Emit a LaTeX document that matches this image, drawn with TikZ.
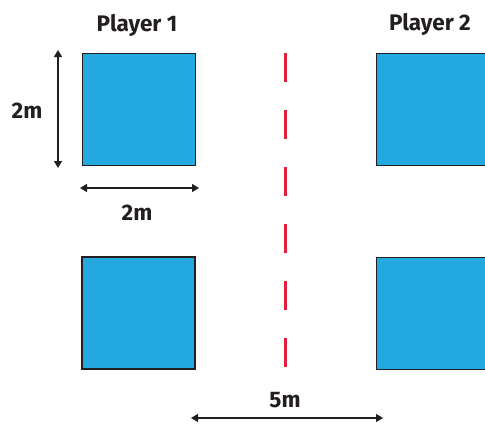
\documentclass[tikz,border=0pt]{standalone}
\usepackage{fontspec}
\setmainfont{Fira Sans}
\usetikzlibrary{arrows.meta}
\definecolor{pitch}{HTML}{24A8E0}
\definecolor{ink}{HTML}{231F20}
\definecolor{midline}{HTML}{E31E3C}
\tikzset{
  court/.style={fill=pitch,draw=ink,line width=1pt},
  courtthick/.style={fill=pitch,draw=ink,line width=2pt},
  dim/.style={draw=ink,line width=1.3pt,{Triangle[length=7pt,width=8pt]}-{Triangle[length=7pt,width=8pt]}},
  lbl/.style={text=ink,font=\bfseries\fontsize{22.5}{24}\selectfont,inner sep=0pt},
}
\begin{document}
\begin{tikzpicture}[x=1pt,y=-1pt]
\useasboundingbox (0,0) rectangle (485,424);
% squares
\path[court] (82,53) rectangle (195,165);
\path[courtthick] (82,257) rectangle (195,369);
\path[court] (376.5,53) rectangle (490,165);
\path[court] (376.5,257) rectangle (490,369);
% midline
\coordinate (mtop) at (285.5,53);
\coordinate (mbot) at (285.5,367);
\draw[midline,line width=2.5pt,dash pattern=on 28.5pt off 28.5pt] (mtop) -- (mbot);
% labels
\node[lbl] (p1) at (137,25) {Player 1};
\node[lbl] (p2) at (430,24) {Player 2};
\node[lbl] (h) at (27,111) {2m};
\node[lbl] (w) at (137,213) {2m};
\node[lbl] (d) at (285,400) {5m};
% dimension arrows
\coordinate (va) at (58,50);
\coordinate (vb) at (58,168);
\draw[dim] (va) -- (vb);
\coordinate (ha) at (80,188);
\coordinate (hb) at (199,188);
\draw[dim] (ha) -- (hb);
\coordinate (da) at (191,418);
\coordinate (db) at (383,418);
\draw[dim] (da) -- (db);
\end{tikzpicture}
\end{document}
